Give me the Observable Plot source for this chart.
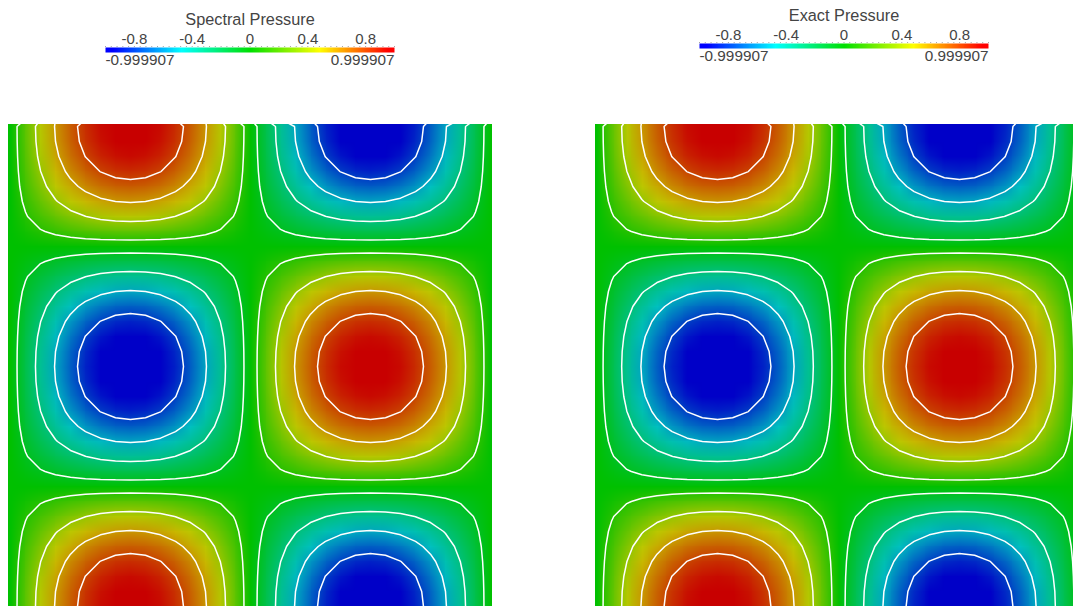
<!DOCTYPE html>
<html>
<head>
<meta charset="utf-8">
<script src="https://cdn.jsdelivr.net/npm/d3@7"></script>
<script src="https://cdn.jsdelivr.net/npm/@observablehq/plot@0.6"></script>
<style>
html,body{margin:0;padding:0;background:#fff;overflow:hidden;width:1073px;height:606px}
svg{position:absolute;display:block;background:transparent}
</style>
</head>
<body>
<script>
// Pressure every 1/16 unit: top row down to the first zero row.
const row0 = [0,.195,.383,.556,.707,.831,.924,.981,1,.981,.924,.831,.707,.556,.383,.195,0,-.195,-.383,-.556,-.707,-.831,-.924,-.981,-1,-.981,-.924,-.831,-.707,-.556,-.383,-.195,0];
const row1 = [0,.191,.376,.545,.694,.815,.906,.962,.981,.962,.906,.815,.694,.545,.376,.191,0,-.191,-.376,-.545,-.694,-.815,-.906,-.962,-.981,-.962,-.906,-.815,-.694,-.545,-.376,-.191,0];
const row2 = [0,.18,.354,.514,.653,.768,.854,.906,.924,.906,.854,.768,.653,.514,.354,.18,0,-.18,-.354,-.514,-.653,-.768,-.854,-.906,-.924,-.906,-.854,-.768,-.653,-.514,-.354,-.18,0];
const row3 = [0,.162,.318,.462,.588,.691,.768,.815,.831,.815,.768,.691,.588,.462,.318,.162,0,-.162,-.318,-.462,-.588,-.691,-.768,-.815,-.831,-.815,-.768,-.691,-.588,-.462,-.318,-.162,0];
const row4 = [0,.138,.271,.393,.5,.588,.653,.694,.707,.694,.653,.588,.5,.393,.271,.138,0,-.138,-.271,-.393,-.5,-.588,-.653,-.694,-.707,-.694,-.653,-.588,-.5,-.393,-.271,-.138,0];
const row5 = [0,.108,.213,.309,.393,.462,.514,.545,.556,.545,.514,.462,.393,.309,.213,.108,0,-.108,-.213,-.309,-.393,-.462,-.514,-.545,-.556,-.545,-.514,-.462,-.393,-.309,-.213,-.108,0];
const row6 = [0,.075,.147,.213,.271,.318,.354,.376,.383,.376,.354,.318,.271,.213,.147,.075,0,-.075,-.147,-.213,-.271,-.318,-.354,-.376,-.383,-.376,-.354,-.318,-.271,-.213,-.147,-.075,0];
const row7 = [0,.038,.075,.108,.138,.162,.18,.191,.195,.191,.18,.162,.138,.108,.075,.038,0,-.038,-.075,-.108,-.138,-.162,-.18,-.191,-.195,-.191,-.18,-.162,-.138,-.108,-.075,-.038,0];
const row8 = [0,0,0,0,0,0,0,0,0,0,0,0,0,0,0,0,0,0,0,0,0,0,0,0,0,0,0,0,0,0,0,0,0];
const flip = r => r.map(v => -v);
const down = [row0,row1,row2,row3,row4,row5,row6,row7,row8];
const middle = [row7,row6,row5,row4,row3,row2,row1,row0,row1,row2,row3,row4,row5,row6,row7].map(flip);
const rows = [...down, ...middle, ...down.slice().reverse()];
const pressure = rows.flat();

const contourLevels = [-.765,-.545,-.32,-.085,.085,.32,.545,.765];
const fieldStops = [-.9,-.5,0,.42,.95];
const fieldColors = ["#0000c8","#00c0c0","#00c000","#c8c800","#c80000"];
const barStops = [-1,-.5,0,.5,1];
const barColors = ["#0000ff","#00ffff","#00e000","#ffff00","#ff0000"];
const barValues = [-1,-.9,-.8,-.7,-.6,-.5,-.4,-.3,-.2,-.1,0,.1,.2,.3,.4,.5,.6,.7,.8,.9,1];
const tickValues = [-.8,-.4,0,.4,.8];
const minorTicks = [-1,-.96,-.92,-.88,-.84,-.8,-.76,-.72,-.68,-.64,-.6,-.56,-.52,-.48,-.44,-.4,-.36,-.32,-.28,-.24,-.2,-.16,-.12,-.08,-.04,0,.04,.08,.12,.16,.2,.24,.28,.32,.36,.4,.44,.48,.52,.56,.6,.64,.68,.72,.76,.8,.84,.88,.92,.96,1];
const rangeMin = -0.999907, rangeMax = 0.999907;
const titles = ["Spectral Pressure","Exact Pressure"];

const font = "'Liberation Sans', sans-serif";
const half = 1/32;

function field(left, top, xDomain, w) {
  const grid = {width:33, height:33, x1:-half, x2:2+half, y1:-half, y2:2+half};
  const svg = Plot.plot({
    width:w, height:482, margin:0,
    x:{domain:xDomain, axis:null},
    y:{domain:[-2/240, 2], reverse:true, axis:null},
    color:{type:"linear", domain:fieldStops, range:fieldColors, interpolate:"rgb", clamp:true},
    marks:[
      Plot.raster(pressure, {...grid, fill:d=>d, clip:true}),
      Plot.contour(pressure, {...grid, value:d=>d, thresholds:contourLevels, fill:"none", stroke:"white", strokeWidth:1.5, clip:true})
    ]
  });
  svg.style.left = left+"px"; svg.style.top = top+"px";
  document.body.appendChild(svg);
}

function legend(left, top, title) {
  const svg = Plot.plot({
    width:320, height:72, marginLeft:10, marginRight:21, marginTop:42, marginBottom:25,
    style:{fontFamily:font, fontSize:"15px", color:"#444", background:"transparent"},
    x:{domain:[-1,1], axis:null},
    y:{domain:[0,1], axis:null},
    color:{type:"linear", domain:barStops, range:barColors, interpolate:"rgb"},
    marks:[
      Plot.raster(barValues, {width:barValues.length, height:1, x1:-1, x2:1, y1:0, y2:1, fill:d=>d}),
      Plot.ruleX(minorTicks, {x:d=>d, y1:1, y2:1.15, stroke:"#555", strokeWidth:0.7}),
      Plot.axisX(tickValues, {anchor:"top", tickSize:0, tickPadding:4, fontSize:15, fill:"#444", tickFormat:d=>String(d)}),
      Plot.text([title], {frameAnchor:"top", dy:-34, fontSize:16.3, fill:"#444"}),
      Plot.text([rangeMin], {x:d=>d, frameAnchor:"bottom", dy:12, textAnchor:"start", text:d=>String(d), fontSize:15.3, fill:"#444"}),
      Plot.text([rangeMax], {x:d=>d, frameAnchor:"bottom", dy:12, textAnchor:"end", text:d=>String(d), fontSize:15.3, fill:"#444"})
    ]
  });
  svg.style.left = left+"px"; svg.style.top = top+"px";
  document.body.appendChild(svg);
}

field(8, 124, [-2/240, 2+2/240], 484);
field(595, 124, [-1/242, 1.971], 478);
legend(95, 5, titles[0]);
legend(689, 1, titles[1]);
</script>
</body>
</html>
